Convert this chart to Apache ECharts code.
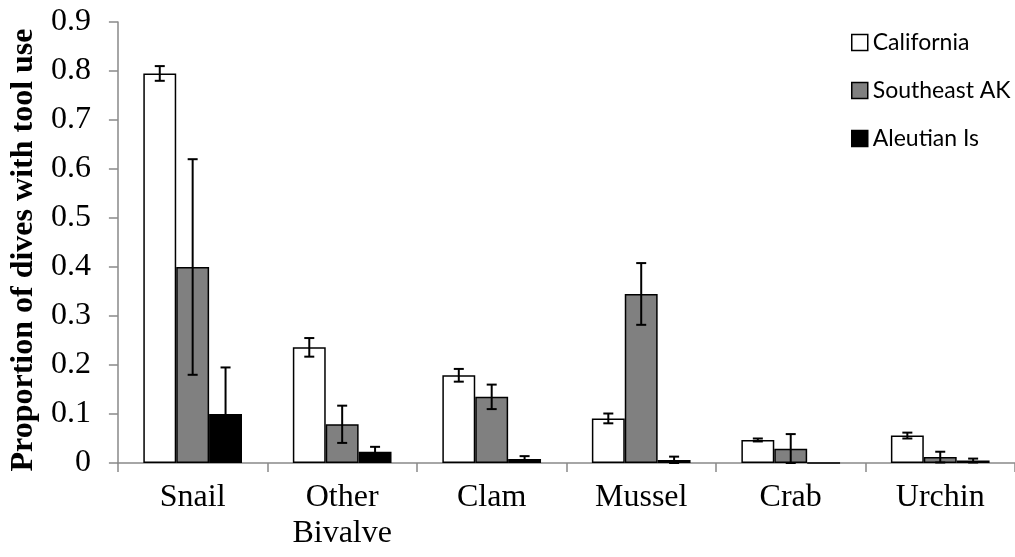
<!DOCTYPE html>
<html>
<head>
<meta charset="utf-8">
<script src="https://cdn.jsdelivr.net/npm/echarts@6/dist/echarts.min.js"></script>
<style>html,body{margin:0;padding:0;background:#fff}#c{width:1015px;height:557px}</style>
</head>
<body>
<div id="c"></div>
<script>
const categories = ['Snail', 'Other\nBivalve', 'Clam', 'Mussel', 'Crab', 'Urchin'];
const seriesNames = ['California', 'Southeast AK', 'Aleutian Is'];
const california = [0.795, 0.236, 0.179, 0.091, 0.047, 0.056];
const southeastAK = [0.400, 0.079, 0.135, 0.345, 0.029, 0.012];
const aleutianIs = [0.100, 0.023, 0.008, 0.006, 0.000, 0.005];
const californiaErr = [0.015, 0.019, 0.013, 0.010, 0.003, 0.006];
const southeastAKErr = [0.220, 0.038, 0.025, 0.063, 0.030, 0.011];
const aleutianIsErr = [0.095, 0.010, 0.006, 0.007, 0.000, 0.004];
const yTicks = ['0', '0.1', '0.2', '0.3', '0.4', '0.5', '0.6', '0.7', '0.8', '0.9'];

const values = [california, southeastAK, aleutianIs];
const errors = [californiaErr, southeastAKErr, aleutianIsErr];
const colors = ['#ffffff', '#808080', '#000000'];
const catGap = 0.34;

const chart = echarts.init(document.getElementById('c'));

const barSeries = seriesNames.map((n, i) => ({
  name: n,
  type: 'bar',
  data: values[i],
  barGap: '0%',
  barCategoryGap: (catGap * 100) + '%',
  itemStyle: { color: colors[i], borderColor: '#000', borderWidth: 1.5 },
  emphasis: { disabled: true },
  z: 2
}));

const errSeries = seriesNames.map((n, si) => ({
  type: 'custom',
  name: n + ' err',
  z: 5,
  silent: true,
  data: values[si].map((v, k) => [k, v, errors[si][k]]),
  renderItem: function (params, api) {
    const k = api.value(0), v = api.value(1), e = api.value(2);
    if (e <= 0) return null;
    const catW = api.size([1, 0])[0];
    const bw = catW * (1 - catGap) / 3;
    const off = (si - 1) * bw;
    const top = api.coord([k, v + e]);
    const bot = api.coord([k, Math.max(0, v - e)]);
    const x = top[0] + off;
    const cap = 5;
    const st = { stroke: '#000', lineWidth: 2 };
    return {
      type: 'group',
      children: [
        { type: 'line', shape: { x1: x, y1: top[1], x2: x, y2: bot[1] }, style: st },
        { type: 'line', shape: { x1: x - cap, y1: top[1], x2: x + cap, y2: top[1] }, style: st },
        { type: 'line', shape: { x1: x - cap, y1: bot[1], x2: x + cap, y2: bot[1] }, style: st }
      ]
    };
  }
}));

chart.setOption({
  animation: false,
  backgroundColor: '#fff',
  grid: { left: 117, top: 22, width: 900, bottom: 94 },
  legend: {
    data: seriesNames,
    orient: 'vertical',
    left: 851,
    top: 31,
    padding: 0,
    itemWidth: 16,
    itemHeight: 16,
    itemGap: 25,
    icon: 'rect',
    itemStyle: { borderColor: '#000', borderWidth: 1.5 },
    textStyle: { fontFamily: 'Lato', fontSize: 23, color: '#000' }
  },
  xAxis: {
    type: 'category',
    data: categories,
    axisLine: { lineStyle: { color: '#898989', width: 1.5 } },
    axisTick: { show: true, length: 9, lineStyle: { color: '#898989', width: 1.5 } },
    axisLabel: { fontFamily: 'Liberation Serif', fontSize: 32, color: '#000', margin: 17, lineHeight: 36 }
  },
  yAxis: {
    type: 'value',
    min: 0, max: 0.9, interval: 0.1,
    name: 'Proportion of dives with tool use',
    nameLocation: 'middle',
    nameGap: 77,
    nameTextStyle: { fontFamily: 'Liberation Serif', fontSize: 32, fontWeight: 'bold', color: '#000', padding: [0, 15, 0, 0] },
    axisLine: { show: true, lineStyle: { color: '#898989', width: 1.5 } },
    axisTick: { show: true, length: 9, lineStyle: { color: '#898989', width: 1.5 } },
    splitLine: { show: false },
    axisLabel: {
      fontFamily: 'Liberation Serif', fontSize: 32, color: '#000', margin: 27,
      formatter: function (v) { return yTicks[Math.round(v * 10)]; }
    }
  },
  series: barSeries.concat(errSeries)
});
</script>
</body>
</html>
